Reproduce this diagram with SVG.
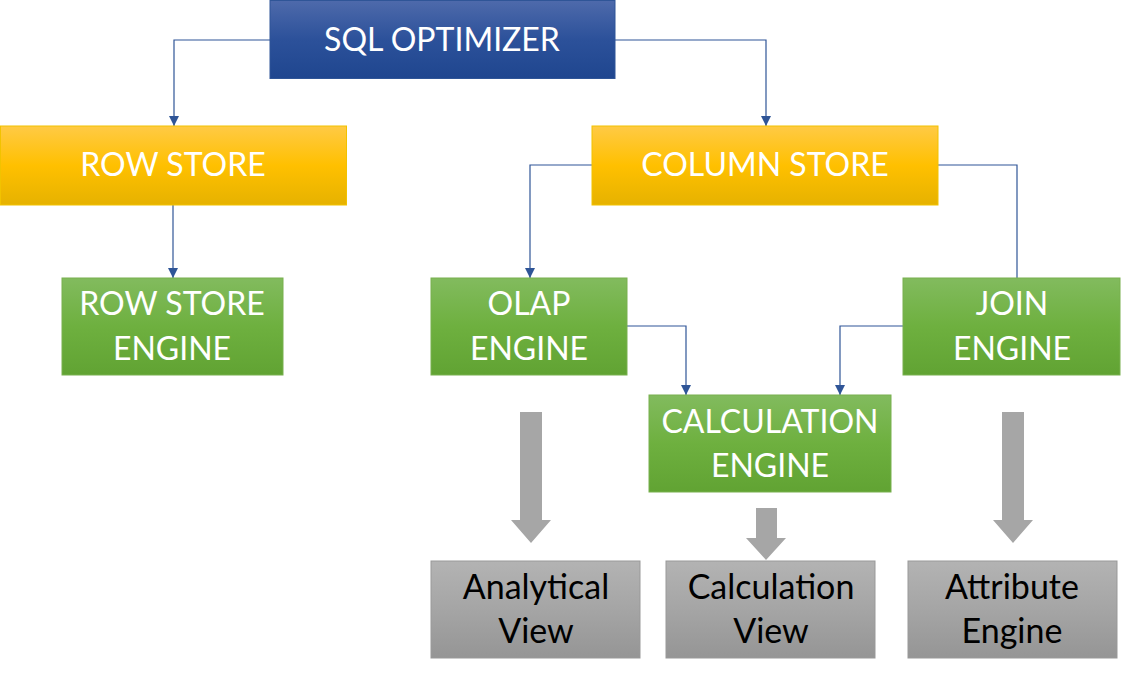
<svg xmlns="http://www.w3.org/2000/svg" width="1122" height="677" viewBox="0 0 1122 677">
<defs>
<linearGradient id="gBlue" x1="0" y1="0" x2="0" y2="1"><stop offset="0" stop-color="#4e6aab"/><stop offset="0.5" stop-color="#2c519a"/><stop offset="1" stop-color="#1f468f"/></linearGradient>
<linearGradient id="gGold" x1="0" y1="0" x2="0" y2="1"><stop offset="0" stop-color="#ffca45"/><stop offset="0.5" stop-color="#ffc000"/><stop offset="1" stop-color="#e6b200"/></linearGradient>
<linearGradient id="gGreen" x1="0" y1="0" x2="0" y2="1"><stop offset="0" stop-color="#82bb5e"/><stop offset="0.5" stop-color="#6eb03f"/><stop offset="1" stop-color="#61a333"/></linearGradient>
<linearGradient id="gGray" x1="0" y1="0" x2="0" y2="1"><stop offset="0" stop-color="#b3b3b3"/><stop offset="0.5" stop-color="#a5a5a5"/><stop offset="1" stop-color="#959595"/></linearGradient>
<marker id="arr" viewBox="0 0 10 10" refX="10" refY="5" markerWidth="10" markerHeight="10" markerUnits="userSpaceOnUse" orient="auto"><path d="M0,0 L10,5 L0,10 z" fill="#2f5597"/></marker>
</defs>
<style>
.blue{fill:url(#gBlue);stroke:#2f5597;stroke-width:1}
.gold{fill:url(#gGold);stroke:#f2c200;stroke-width:1}
.green{fill:url(#gGreen);stroke:#78b04f;stroke-width:1}
.gray{fill:url(#gGray);stroke:#999;stroke-width:1}
.wt{fill:#fff;font-family:Lato,"Open Sans","Liberation Sans",sans-serif;font-size:32px;text-anchor:middle}
.bt{fill:#000;font-family:Lato,"Open Sans","Liberation Sans",sans-serif;font-size:34px;text-anchor:middle}
.con{fill:none;stroke:#2f5597;stroke-width:1.2}
.blk{fill:#a6a6a6}
</style>
<g id="connectors">
<path class="con" d="M270,40 H174 V126" marker-end="url(#arr)"/>
<path class="con" d="M615,40 H766 V126" marker-end="url(#arr)"/>
<path class="con" d="M173,205 V278" marker-end="url(#arr)"/>
<path class="con" d="M592,165 H530 V278" marker-end="url(#arr)"/>
<path class="con" d="M938,165 H1017 V278"/>
<path class="con" d="M627,326 H686 V395" marker-end="url(#arr)"/>
<path class="con" d="M903,326 H840 V395" marker-end="url(#arr)"/>
<path class="blk" d="M520,412 H542 V520 H551 L531,543 L511,520 H520 z"/>
<path class="blk" d="M756,508 H777 V538 H786 L766,560 L746,538 H756 z"/>
<path class="blk" d="M1002,412 H1024 V520 H1033 L1013,543 L993,520 H1002 z"/>
</g>
<g id="sql-optimizer"><rect class="blue" x="270" y="0.5" width="345" height="78"/><text class="wt" x="442" y="51">SQL OPTIMIZER</text></g>
<g id="row-store"><rect class="gold" x="0.5" y="126" width="346" height="79"/><text class="wt" x="173" y="176">ROW STORE</text></g>
<g id="column-store"><rect class="gold" x="592" y="126" width="346" height="79"/><text class="wt" x="765" y="176">COLUMN STORE</text></g>
<g id="row-store-engine"><rect class="green" x="62" y="278" width="221" height="97"/><text class="wt" x="172" y="315">ROW STORE</text><text class="wt" x="172" y="360">ENGINE</text></g>
<g id="olap-engine"><rect class="green" x="431" y="278" width="196" height="97"/><text class="wt" x="529" y="315">OLAP</text><text class="wt" x="529" y="360">ENGINE</text></g>
<g id="join-engine"><rect class="green" x="903" y="278" width="217" height="97"/><text class="wt" x="1012" y="315">JOIN</text><text class="wt" x="1012" y="360">ENGINE</text></g>
<g id="calculation-engine"><rect class="green" x="649" y="395" width="242" height="97"/><text class="wt" x="770" y="433">CALCULATION</text><text class="wt" x="770" y="477">ENGINE</text></g>
<g id="analytical-view"><rect class="gray" x="431" y="561" width="209" height="97"/><text class="bt" x="536" y="599">Analytical</text><text class="bt" x="536" y="643">View</text></g>
<g id="calculation-view"><rect class="gray" x="666" y="561" width="209" height="97"/><text class="bt" x="771" y="599">Calculation</text><text class="bt" x="771" y="643">View</text></g>
<g id="attribute-engine"><rect class="gray" x="908" y="561" width="209" height="97"/><text class="bt" x="1012" y="599">Attribute</text><text class="bt" x="1012" y="643">Engine</text></g>
</svg>
